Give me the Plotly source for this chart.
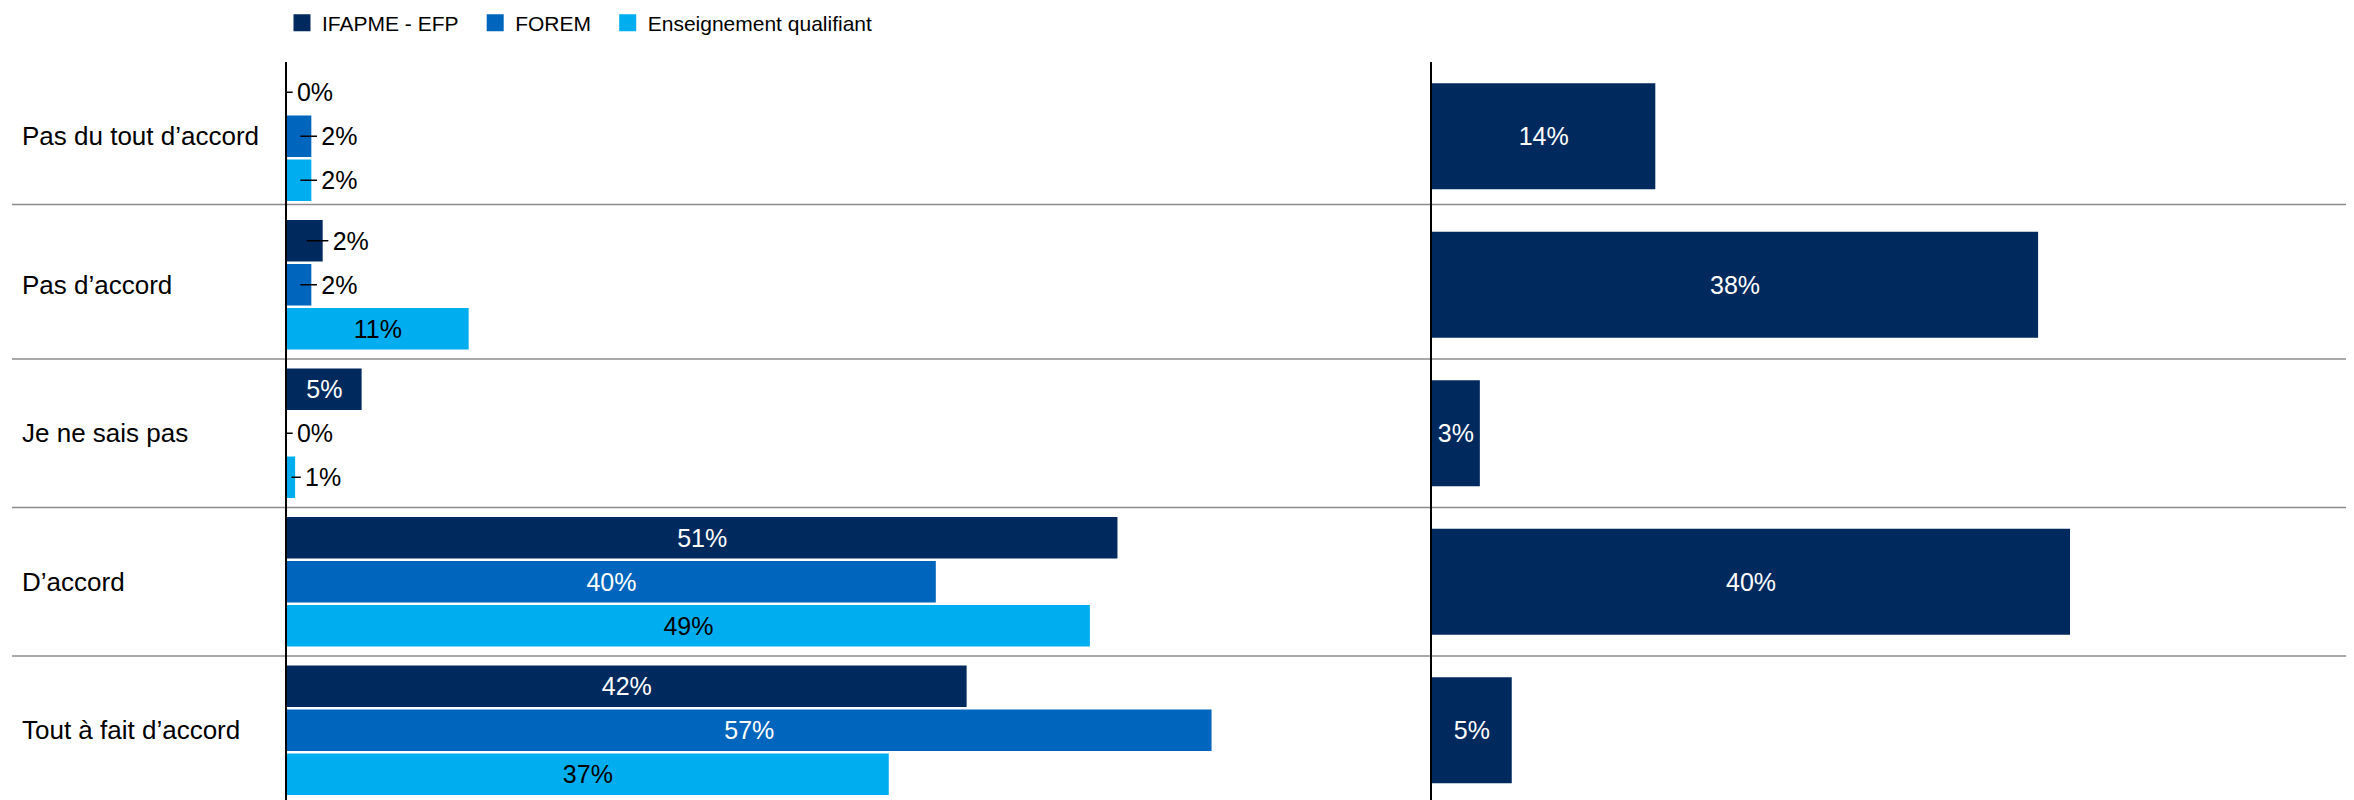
import plotly.graph_objects as go

# ---- data ----
categories = ["Pas du tout d’accord", "Pas d’accord", "Je ne sais pas", "D’accord", "Tout à fait d’accord"]
series_names = ["IFAPME - EFP", "FOREM", "Enseignement qualifiant"]

ifapme_values = [0.0, 2.2, 4.6, 51.2, 41.9]
forem_values = [1.5, 1.5, 0.0, 40.0, 57.0]
enseignement_values = [1.5, 11.2, 0.5, 49.5, 37.1]

ifapme_labels = ["0%", "2%", "5%", "51%", "42%"]
forem_labels = ["2%", "2%", "0%", "40%", "57%"]
enseignement_labels = ["2%", "11%", "1%", "49%", "37%"]

right_values = [14, 38, 3, 40, 5]
right_labels = ["14%", "38%", "3%", "40%", "5%"]

# ---- styles ----
colors = ["#002A5E", "#0065BD", "#00AEEF"]
inside_text_colors = ["white", "white", "black"]
FONT = "Liberation Sans, Arial, sans-serif"
W, H = 2354, 800
OFF = 8                      # page body margin
ML, MT = 287 - OFF, 54
plot_w = W - ML
left_end = 1432 - OFF - ML   # px inside plot area where right panel starts
split = left_end / plot_w
left_range = left_end / 16.22
right_range = (plot_w - left_end) / 15.95
BAND = 148.5
BARGAP = 0.111
BARGROUPGAP = 0.057
INSIDE_MIN = 4.0
separators = [0.46, 1.5, 2.5, 3.5]

fig = go.Figure()

series = [
    (ifapme_values, ifapme_labels),
    (forem_values, forem_labels),
    (enseignement_values, enseignement_labels),
]

shapes = []
slot = (1 - BARGAP) / 3
for j, ((vals, labs), name) in enumerate(zip(series, series_names)):
    texts, positions = [], []
    for i, (v, lab) in enumerate(zip(vals, labs)):
        if v >= INSIDE_MIN:
            texts.append(lab)
            positions.append("inside")
        else:
            texts.append(" " + lab)
            positions.append("outside")
            yc = i + (j - 1) * slot
            shapes.append(dict(type="line", xref="x", yref="y",
                               x0=0.55 * v, x1=v + 0.35, y0=yc, y1=yc,
                               line=dict(color="black", width=1.5), layer="above"))
    fig.add_trace(go.Bar(
        y=categories, x=vals, orientation="h", name=name, showlegend=False,
        marker=dict(color=colors[j], line=dict(width=0)),
        text=texts, textposition=positions, insidetextanchor="middle",
        insidetextfont=dict(color=inside_text_colors[j], size=25, family=FONT),
        outsidetextfont=dict(color="black", size=25, family=FONT),
        constraintext="none", cliponaxis=False,
        xaxis="x", yaxis="y", hoverinfo="skip",
    ))

fig.add_trace(go.Bar(
    y=categories, x=right_values, orientation="h", name=series_names[0],
    marker=dict(color=colors[0], line=dict(width=0)), width=0.714,
    text=right_labels, textposition="inside", insidetextanchor="middle",
    insidetextfont=dict(color="white", size=25, family=FONT),
    constraintext="none", showlegend=False,
    xaxis="x2", yaxis="y2", hoverinfo="skip",
))

# legend keys (on a hidden axis pair so they do not affect bar grouping)
for j, name in enumerate(series_names):
    fig.add_trace(go.Bar(
        x=[None], y=[None], orientation="h", name=name + "\u00a0\u00a0",
        marker=dict(color=colors[j], line=dict(color=colors[j], width=5)),
        xaxis="x3", yaxis="y3", hoverinfo="skip", showlegend=True,
    ))

# horizontal separators between categories
for s in separators:
    shapes.append(dict(type="line", xref="paper", yref="y",
                       x0=(12 - OFF - ML) / plot_w, x1=1, y0=s, y1=s,
                       line=dict(color="#8c8c8c", width=1.5), layer="below"))

annotations = []
for c in categories:
    annotations.append(dict(xref="paper", yref="y", x=(20 - OFF - ML) / plot_w, y=c,
                            text=c, showarrow=False, xanchor="left", yanchor="middle",
                            font=dict(size=26, color="black", family=FONT)))

span = (H - MT) / BAND
yrange = [-0.5 + span, -0.5]

fig.update_layout(
    width=W, height=H,
    margin=dict(l=ML, r=0, t=MT, b=0, pad=0),
    paper_bgcolor="white", plot_bgcolor="white",
    font=dict(family=FONT, color="black"),
    barmode="group", bargap=BARGAP, bargroupgap=BARGROUPGAP,
    xaxis=dict(domain=[0, split], range=[0, left_range], visible=False, anchor="y"),
    yaxis=dict(type="category", categoryorder="array", categoryarray=categories,
               range=yrange, showline=True, linecolor="black", linewidth=2,
               showticklabels=False, ticks="", showgrid=False, zeroline=False, anchor="x"),
    xaxis2=dict(domain=[split, 1], range=[0, right_range], visible=False, anchor="y2"),
    yaxis2=dict(type="category", categoryorder="array", categoryarray=categories,
                range=yrange, matches="y", showline=True, linecolor="black", linewidth=2,
                showticklabels=False, ticks="", showgrid=False, zeroline=False, anchor="x2"),
    xaxis3=dict(domain=[0, 0.001], visible=False, anchor="y3"),
    yaxis3=dict(domain=[0, 0.001], visible=False, anchor="x3"),
    legend=dict(orientation="h", xref="container", yref="container",
                x=274 / W, y=1 - 15 / H, xanchor="left", yanchor="middle",
                font=dict(size=21, color="black", family=FONT),
                bgcolor="rgba(0,0,0,0)", traceorder="normal"),
    shapes=shapes,
    annotations=annotations,
    showlegend=True,
)

fig.write_html("out.html")
